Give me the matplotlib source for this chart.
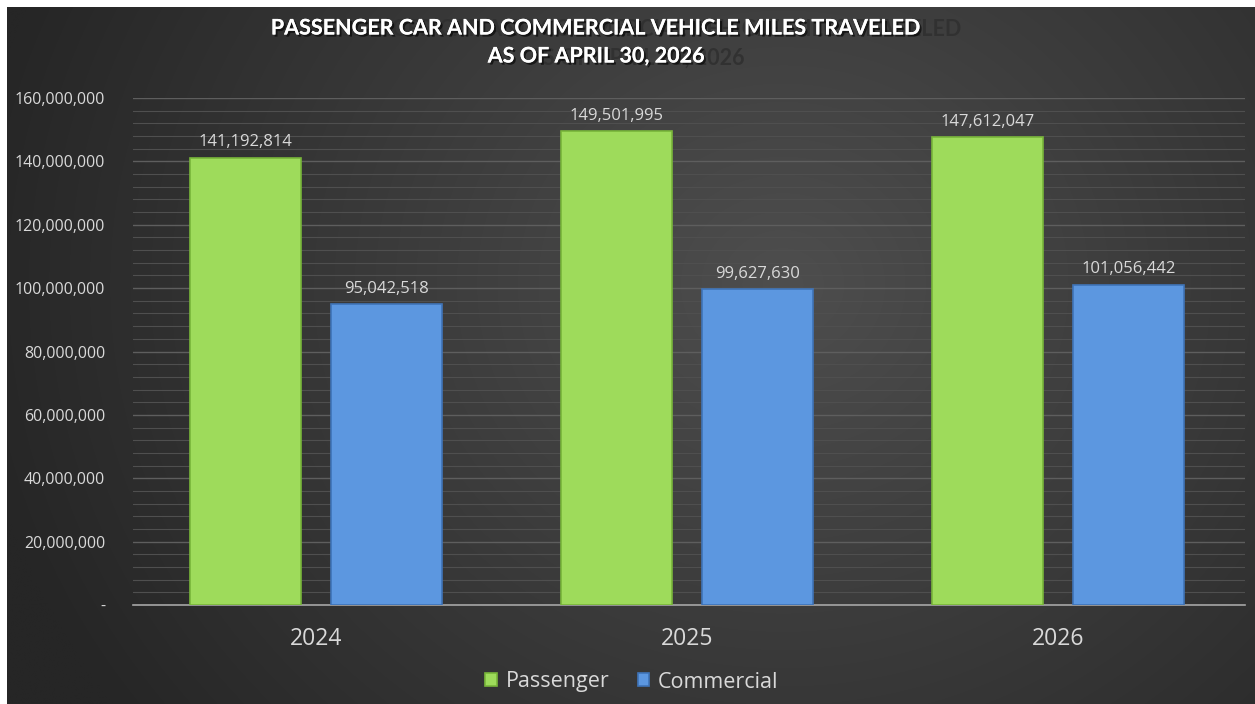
import numpy as np
import matplotlib.pyplot as plt
from matplotlib.ticker import FuncFormatter, MultipleLocator
import matplotlib.patheffects as pe

years = ["2024", "2025", "2026"]
passenger = [141192814, 149501995, 147612047]
commercial = [95042518, 99627630, 101056442]

title_1 = "PASSENGER CAR AND COMMERCIAL VEHICLE MILES TRAVELED"
title_2 = "AS OF APRIL 30, 2026"

W, H = 1255, 704
fig = plt.figure(figsize=(W / 100, H / 100), dpi=100, facecolor="white")

# dark radial background, white strip at top and left like the screenshot
bg = fig.add_axes([7 / W, 0, 1 - 7 / W, 1 - 7 / H])
bg.set_axis_off()
yy, xx = np.mgrid[0:H, 0:W]
r = np.sqrt(((xx - 780) / 1.0) ** 2 + ((yy - 280) / 0.9) ** 2)
t = np.clip(r / 820, 0, 1)
shade = 0x4e / 255 * (1 - t) + 0x26 / 255 * t
bg.imshow(np.dstack([shade] * 3), aspect="auto", extent=[0, 1, 0, 1])

ax = fig.add_axes([133 / W, 1 - 605 / H, (1245 - 133) / W, (605 - 98) / H])
ax.patch.set_alpha(0)

x = np.arange(len(years))
w = 0.30
off = 0.19
green = "#9edb5b"
blue = "#5c97e0"

b1 = ax.bar(x - off, passenger, w, color=green, edgecolor="#78b53a", linewidth=1.2,
            label="Passenger", zorder=3)
b2 = ax.bar(x + off, commercial, w, color=blue, edgecolor="#3f74b8", linewidth=1.2,
            label="Commercial", zorder=3)

for bars, vals in [(b1, passenger), (b2, commercial)]:
    for rect, v in zip(bars, vals):
        ax.text(rect.get_x() + rect.get_width() / 2, v + 2.3e6, f"{v:,}",
                ha="center", va="bottom", color="#d9d9d9", fontsize=12,
                family="Open Sans", zorder=4)

ax.set_xlim(-0.493, 2.504)
ax.set_ylim(0, 160000000)
ax.yaxis.set_major_locator(MultipleLocator(20000000))
ax.yaxis.set_minor_locator(MultipleLocator(4000000))
ax.yaxis.set_major_formatter(FuncFormatter(lambda v, p: "-" if v == 0 else f"{int(v):,}"))
ax.grid(axis="y", which="major", color="#5e5e5e", linewidth=1.0, zorder=0)
ax.grid(axis="y", which="minor", color="#4f4f4f", linewidth=0.8, zorder=0)
ax.set_axisbelow(True)

for s in ["top", "right", "left"]:
    ax.spines[s].set_visible(False)
ax.spines["bottom"].set_color("#a6a6a6")
ax.spines["bottom"].set_linewidth(1.2)

ax.set_xticks(x)
ax.set_xticklabels(years)
ax.tick_params(axis="x", length=0, pad=16, labelsize=16.5, labelcolor="#d9d9d9")
ax.tick_params(axis="y", which="both", length=0, pad=20, labelsize=11.5, labelcolor="#d9d9d9")
for lab in ax.get_xticklabels() + ax.get_yticklabels():
    lab.set_family("Open Sans")

# legend is centred on the whole figure, not the plot area
leg = fig.legend(handles=[b1, b2], labels=["Passenger", "Commercial"], loc="center",
                 bbox_to_anchor=(632 / W, 1 - 682 / H), ncol=2, frameon=False,
                 handlelength=0.55, handleheight=0.55, handletextpad=0.4,
                 columnspacing=1.3, prop={"family": "Open Sans", "size": 15.5})
for txt in leg.get_texts():
    txt.set_color("#d9d9d9")

# title with the ghost copy seen in the screenshot
fig.text(636 / W, 1 - 30 / H, title_1, ha="center", va="center", fontsize=15.5,
         fontweight="bold", color="#303030", family="Lato", alpha=0.9)
fig.text(636 / W, 1 - 58 / H, title_2, ha="center", va="center", fontsize=15.5,
         fontweight="bold", color="#303030", family="Lato", alpha=0.9)
shadow = [pe.withSimplePatchShadow(offset=(1.5, -1.5), shadow_rgbFace="black", alpha=0.6),
          pe.Normal()]
fig.text(596 / W, 1 - 28 / H, title_1, ha="center", va="center", fontsize=15.5,
         fontweight="bold", color="white", family="Lato", path_effects=shadow)
fig.text(596 / W, 1 - 56 / H, title_2, ha="center", va="center", fontsize=15.5,
         fontweight="bold", color="white", family="Lato", path_effects=shadow)

fig.savefig("out.png", dpi=100, facecolor="white")
